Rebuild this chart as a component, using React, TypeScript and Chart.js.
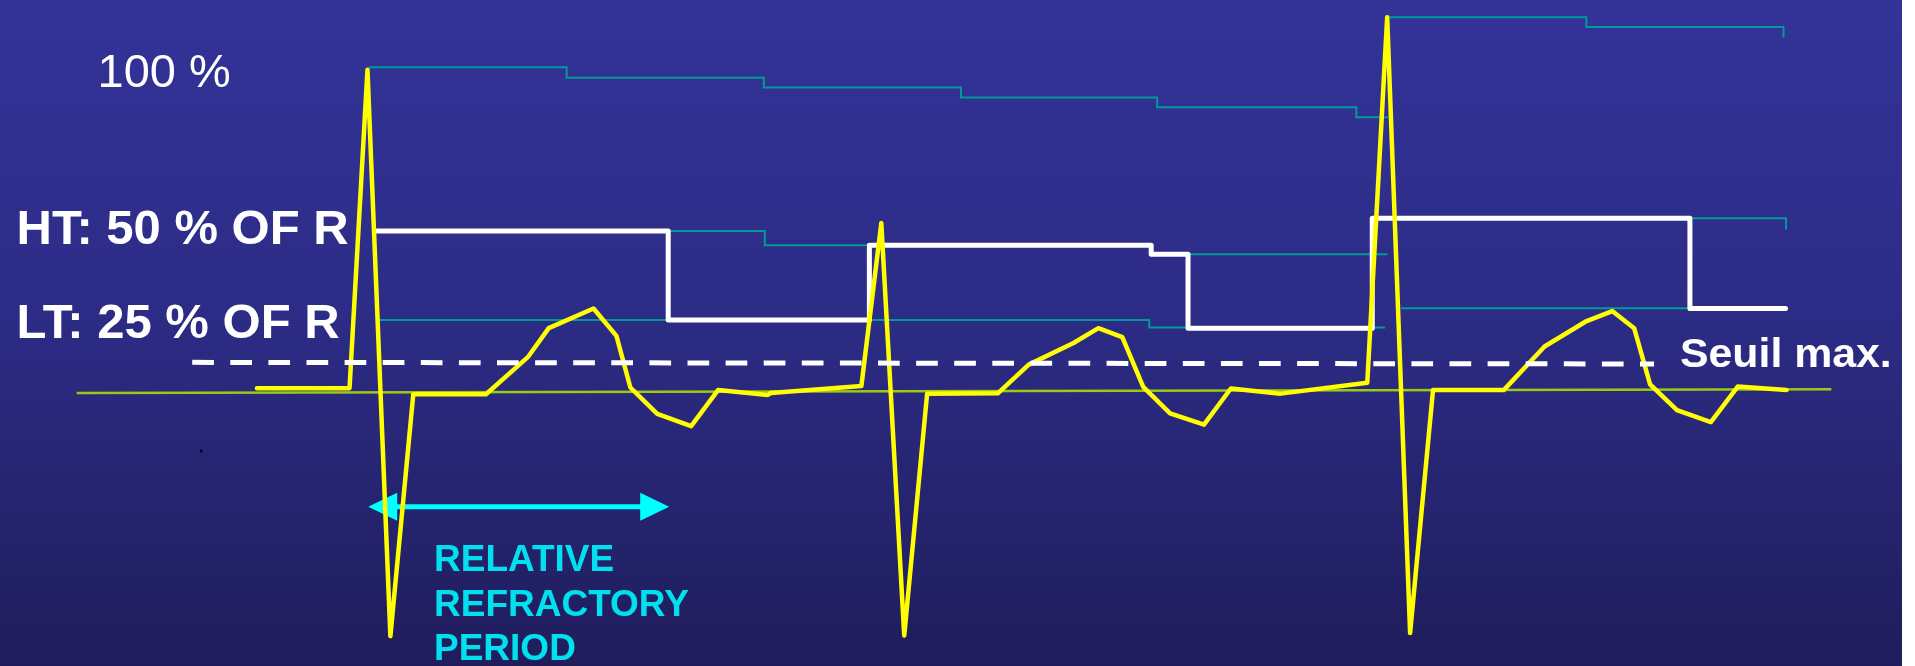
import { useEffect, useRef } from 'react';
import { Chart, registerables } from 'chart.js';

Chart.register(...registerables);

// Time in ms relative to the first R peak, amplitude in % of the first R wave.
const ecgTimes = [
  -111, -18, 0, 23, 46, 119, 161, 182, 227, 250, 264, 291, 325, 352, 402, 405, 496,
  516, 539, 562, 633, 664, 709, 734, 758, 779, 806, 840, 867, 917, 1004,
  1024, 1047, 1070, 1141, 1182, 1223, 1250, 1272, 1288, 1315, 1349, 1376, 1425,
];
const ecgValues = [
  0.9, 0.9, 99.6, -76.0, -1.0, -1.0, 10.5, 19.5, 25.6, 17.1, 1.1, -7.1, -10.9, 0.3, -1.2, -0.6, 1.6,
  52.1, -75.8, -0.8, -0.7, 8.2, 14.9, 19.5, 16.7, 1.3, -6.9, -10.4, 0.8, -0.8, 2.6,
  115.9, -75.0, 0.3, 0.3, 13.8, 21.5, 24.8, 19.5, 2.1, -5.9, -9.6, 1.4, 0.3,
];

// Active sensing threshold (white, stepped)
const thresholdTimes = [9, 302, 504, 787, 824, 1009, 1328, 1424];
const thresholdValues = [49.6, 22.0, 45.2, 42.4, 19.5, 53.6, 25.6, 25.6];

// Decaying reference levels (teal, stepped)
const peak1Times = [1, 200, 398, 596, 793, 993, 1025];
const peak1Values = [100.4, 97.1, 94.1, 91.0, 88.0, 84.9, 84.9];
const peak3Times = [1025, 1224, 1422];
const peak3Values = [115.9, 112.9, 109.5];
const high1Times = [9, 399, 787, 1024];
const high1Values = [49.6, 45.2, 42.4, 42.4];
const low1Times = [10, 785, 1022];
const low1Values = [22.0, 19.7, 19.7];
const high3Times = [1025, 1424.5];
const high3Values = [53.6, 50.1];
const low3Times = [1038, 1424];
const low3Values = [25.7, 25.7];

// Max threshold (dashed) and isoelectric baseline
const maxThresholdTimes = [-176, 1292];
const maxThresholdValues = [8.9, 8.4];
const baselineTimes = [-292, 1470];
const baselineValues = [-0.6, 0.55];

// Stray dot
const dotTimes = [-167];
const dotValues = [-18.6];

// Relative refractory period arrow
const arrowSpan = [0.7, 303];
const arrowLevel = -35.9;

const labelPeak = '100 %';
const labelHigh = 'HT: 50 % OF R';
const labelLow = 'LT: 25 % OF R';
const labelMax = 'Seuil max.';
const labelPeriod = ['RELATIVE', 'REFRACTORY', 'PERIOD'];

const W = 1915;
const H = 666;

const pts = (xs: number[], ys: number[]) => xs.map((x, i) => ({ x, y: ys[i] }));

const backgroundPlugin = {
  id: 'bgGradient',
  beforeDraw(chart: any) {
    const { ctx, height } = chart;
    const g = ctx.createLinearGradient(0, 0, 0, height);
    g.addColorStop(0, '#333399');
    g.addColorStop(0.5, '#2c2b84');
    g.addColorStop(1, '#1f1d5b');
    ctx.save();
    ctx.fillStyle = '#ffffff';
    ctx.fillRect(0, 0, chart.width, height);
    ctx.fillStyle = g;
    ctx.fillRect(0, 0, 1902, height);
    ctx.restore();
  },
};

const arrowPlugin = {
  id: 'periodArrow',
  beforeDatasetsDraw(chart: any) {
    const { ctx } = chart;
    const xs = chart.scales.x;
    const ys = chart.scales.y;
    const x0 = xs.getPixelForValue(arrowSpan[0]);
    const x1 = xs.getPixelForValue(arrowSpan[1]);
    const yy = ys.getPixelForValue(arrowLevel);
    const len = 29;
    const half = 14;
    ctx.save();
    ctx.strokeStyle = '#00FFFF';
    ctx.fillStyle = '#00FFFF';
    ctx.lineWidth = 5;
    ctx.beginPath();
    ctx.moveTo(x0 + len - 2, yy);
    ctx.lineTo(x1 - len + 2, yy);
    ctx.stroke();
    ctx.beginPath();
    ctx.moveTo(x0, yy);
    ctx.lineTo(x0 + len, yy - half);
    ctx.lineTo(x0 + len, yy + half);
    ctx.closePath();
    ctx.fill();
    ctx.beginPath();
    ctx.moveTo(x1, yy);
    ctx.lineTo(x1 - len, yy - half);
    ctx.lineTo(x1 - len, yy + half);
    ctx.closePath();
    ctx.fill();
    ctx.restore();
  },
};

const FONT = "'Liberation Sans', Arial, Helvetica, sans-serif";

function Label(props: {
  text: string;
  left: number;
  top: number;
  size: number;
  bold?: boolean;
  color?: string;
  scaleX?: number;
}) {
  return (
    <div
      style={{
        position: 'absolute',
        left: props.left,
        top: props.top,
        fontFamily: FONT,
        fontSize: props.size,
        lineHeight: `${props.size}px`,
        fontWeight: props.bold ? 'bold' : 'normal',
        color: props.color || '#ffffff',
        whiteSpace: 'nowrap',
        transform: props.scaleX ? `scaleX(${props.scaleX})` : undefined,
        transformOrigin: 'left top',
      }}
    >
      {props.text}
    </div>
  );
}

export default function App() {
  const ref = useRef<HTMLCanvasElement>(null);

  useEffect(() => {
    if (!ref.current) return;
    const teal = '#009a9a';
    const tealSet = (xs: number[], ys: number[]) => ({
      data: pts(xs, ys),
      borderColor: teal,
      borderWidth: 2,
      stepped: true as const,
      pointRadius: 0,
      fill: false,
    });
    const chart = new Chart(ref.current, {
      type: 'line',
      data: {
        datasets: [
          {
            data: pts(maxThresholdTimes, maxThresholdValues),
            borderColor: '#ffffff',
            borderWidth: 5,
            borderDash: [21.7, 16.4],
            pointRadius: 0,
            fill: false,
          },
          {
            data: pts(ecgTimes, ecgValues),
            borderColor: '#ffff00',
            borderWidth: 4.5,
            borderJoinStyle: 'round',
            borderCapStyle: 'round',
            tension: 0,
            pointRadius: 0,
            fill: false,
          },
          {
            data: pts(thresholdTimes, thresholdValues),
            borderColor: '#ffffff',
            borderWidth: 5,
            borderJoinStyle: 'round',
            borderCapStyle: 'round',
            stepped: true,
            pointRadius: 0,
            fill: false,
          },
          tealSet(peak1Times, peak1Values),
          tealSet(peak3Times, peak3Values),
          tealSet(high1Times, high1Values),
          tealSet(low1Times, low1Values),
          tealSet(high3Times, high3Values),
          tealSet(low3Times, low3Values),
          {
            data: pts(baselineTimes, baselineValues),
            borderColor: '#99cc11',
            borderWidth: 2.5,
            pointRadius: 0,
            fill: false,
          },
          {
            data: pts(dotTimes, dotValues),
            showLine: false,
            pointRadius: 1.5,
            pointBackgroundColor: '#000000',
            pointBorderWidth: 0,
          },
        ] as any,
      },
      options: {
        responsive: false,
        maintainAspectRatio: false,
        animation: false,
        devicePixelRatio: 1,
        layout: { padding: 0 },
        events: [],
        plugins: {
          legend: { display: false },
          tooltip: { enabled: false },
          title: { display: false },
        },
        scales: {
          x: { type: 'linear', min: -365, max: 1550, display: false },
          y: { type: 'linear', min: -84, max: 120, display: false },
        },
      },
      plugins: [backgroundPlugin, arrowPlugin],
    });
    return () => chart.destroy();
  }, []);

  return (
    <div
      style={{
        position: 'fixed',
        left: 0,
        top: 0,
        width: W,
        height: H,
        overflow: 'hidden',
        background: '#ffffff',
      }}
    >
      <canvas
        ref={ref}
        width={W}
        height={H}
        style={{ position: 'absolute', left: 0, top: 0, width: W, height: H }}
      />
      <Label text={labelPeak} left={97.5} top={46.9} size={47} />
      <Label text={labelHigh} left={16.5} top={202.8} size={49} bold />
      <Label text={labelLow} left={16.5} top={296.8} size={49} bold />
      <Label text={labelMax} left={1680} top={332.8} size={40} bold scaleX={1.07} />
      <Label text={labelPeriod[0]} left={434} top={540.4} size={37} bold color="#00e0ee" />
      <Label text={labelPeriod[1]} left={434} top={584.7} size={37} bold color="#00e0ee" />
      <Label text={labelPeriod[2]} left={434} top={628.7} size={37} bold color="#00e0ee" />
    </div>
  );
}
